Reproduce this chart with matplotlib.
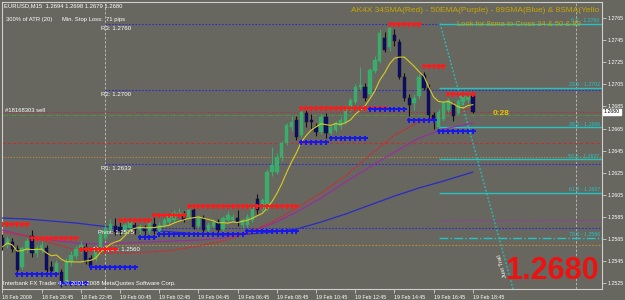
import numpy as np
import matplotlib.pyplot as plt
import matplotlib.transforms as mtransforms
import pandas as pd

plt.rcParams['font.family'] = ['Liberation Sans', 'DejaVu Sans']

# EURUSD M15 bars, bar 0 = 18 Feb 18:45 ... bar 96 = 19 Feb 18:45
opens = [1.2566, 1.2560, 1.2562, 1.2556, 1.2540, 1.2555, 1.2568, 1.2552, 1.2555, 1.2557,
         1.2540, 1.2535, 1.2535, 1.2527, 1.2544, 1.2550, 1.2555, 1.2558, 1.2548, 1.2548,
         1.2556, 1.2566, 1.2573, 1.2577, 1.2576, 1.2573, 1.2575, 1.2578, 1.2573, 1.2575,
         1.2572, 1.2579, 1.2572, 1.2578, 1.2580, 1.2582, 1.2587, 1.2587, 1.2585, 1.2591,
         1.2577, 1.2584, 1.2573, 1.2577, 1.2580, 1.2574, 1.2582, 1.2582, 1.2584, 1.2578,
         1.2578, 1.2582, 1.2601, 1.2592, 1.2592, 1.2626, 1.2626, 1.2639, 1.2652, 1.2666,
         1.2673, 1.2659, 1.2679, 1.2673, 1.2666, 1.2662, 1.2675, 1.2661, 1.2664, 1.2667,
         1.2671, 1.2682, 1.2689, 1.2703, 1.2703, 1.2696, 1.2717, 1.2726, 1.2747, 1.2739,
         1.2750, 1.2743, 1.2712, 1.2693, 1.2688, 1.2694, 1.2713, 1.2702, 1.2677, 1.2666,
         1.2674, 1.2682, 1.2686, 1.2679, 1.2689, 1.2691, 1.2694]
highs = [1.2570, 1.2568, 1.2566, 1.2560, 1.2559, 1.2566, 1.2573, 1.2560, 1.2563, 1.2560,
         1.2545, 1.2546, 1.2538, 1.2548, 1.2554, 1.2559, 1.2563, 1.2561, 1.2551, 1.2560,
         1.2573, 1.2578, 1.2583, 1.2584, 1.2580, 1.2581, 1.2582, 1.2581, 1.2579, 1.2578,
         1.2582, 1.2587, 1.2580, 1.2585, 1.2589, 1.2591, 1.2593, 1.2590, 1.2593, 1.2594,
         1.2587, 1.2587, 1.2580, 1.2583, 1.2583, 1.2586, 1.2590, 1.2588, 1.2591, 1.2584,
         1.2588, 1.2598, 1.2606, 1.2602, 1.2628, 1.2648, 1.2643, 1.2654, 1.2670, 1.2676,
         1.2676, 1.2683, 1.2684, 1.2678, 1.2670, 1.2678, 1.2679, 1.2668, 1.2672, 1.2675,
         1.2686, 1.2693, 1.2705, 1.2721, 1.2706, 1.2720, 1.2731, 1.2755, 1.2752, 1.2760,
         1.2755, 1.2746, 1.2715, 1.2696, 1.2696, 1.2714, 1.2716, 1.2705, 1.2680, 1.2683,
         1.2690, 1.2693, 1.2689, 1.2692, 1.2697, 1.2698, 1.2698]
lows = [1.2555, 1.2557, 1.2553, 1.2535, 1.2538, 1.2552, 1.2549, 1.2549, 1.2552, 1.2535,
        1.2533, 1.2532, 1.2522, 1.2526, 1.2541, 1.2547, 1.2552, 1.2542, 1.2539, 1.2545,
        1.2553, 1.2564, 1.2571, 1.2569, 1.2569, 1.2570, 1.2572, 1.2570, 1.2570, 1.2569,
        1.2570, 1.2570, 1.2570, 1.2576, 1.2578, 1.2580, 1.2585, 1.2580, 1.2583, 1.2574,
        1.2575, 1.2571, 1.2570, 1.2575, 1.2571, 1.2572, 1.2580, 1.2580, 1.2577, 1.2575,
        1.2576, 1.2580, 1.2588, 1.2590, 1.2590, 1.2622, 1.2624, 1.2636, 1.2650, 1.2663,
        1.2655, 1.2657, 1.2666, 1.2665, 1.2658, 1.2660, 1.2656, 1.2659, 1.2662, 1.2665,
        1.2669, 1.2680, 1.2687, 1.2700, 1.2690, 1.2694, 1.2715, 1.2724, 1.2734, 1.2735,
        1.2740, 1.2710, 1.2690, 1.2676, 1.2682, 1.2692, 1.2700, 1.2674, 1.2665, 1.2663,
        1.2672, 1.2680, 1.2672, 1.2677, 1.2686, 1.2688, 1.2679]
closes = [1.2558, 1.2565, 1.2556, 1.2537, 1.2557, 1.2563, 1.2552, 1.2557, 1.2560, 1.2537,
          1.2536, 1.2543, 1.2526, 1.2545, 1.2551, 1.2556, 1.2560, 1.2544, 1.2541, 1.2558,
          1.2570, 1.2575, 1.2579, 1.2571, 1.2572, 1.2578, 1.2580, 1.2573, 1.2576, 1.2572,
          1.2580, 1.2572, 1.2578, 1.2582, 1.2587, 1.2589, 1.2589, 1.2582, 1.2591, 1.2576,
          1.2584, 1.2573, 1.2578, 1.2580, 1.2573, 1.2584, 1.2587, 1.2585, 1.2580, 1.2582,
          1.2585, 1.2595, 1.2591, 1.2600, 1.2626, 1.2632, 1.2639, 1.2652, 1.2668, 1.2671,
          1.2657, 1.2680, 1.2671, 1.2671, 1.2662, 1.2675, 1.2661, 1.2666, 1.2670, 1.2673,
          1.2684, 1.2691, 1.2703, 1.2704, 1.2693, 1.2718, 1.2727, 1.2751, 1.2736, 1.2756,
          1.2744, 1.2712, 1.2693, 1.2686, 1.2693, 1.2712, 1.2702, 1.2677, 1.2673, 1.2680,
          1.2688, 1.2691, 1.2676, 1.2690, 1.2694, 1.2694, 1.2680]

ma_bars = [0, 5, 10, 15, 20, 25, 30, 35, 40, 45, 50, 55, 60, 65, 70, 75, 80, 85, 90, 96]
sma34 = [1.25713, 1.25677, 1.25614, 1.25550, 1.25523, 1.25523, 1.25532, 1.25550, 1.25587, 1.25632,
         1.25704, 1.25804, 1.25931, 1.26066, 1.26220, 1.26410, 1.26591, 1.26709, 1.26772, 1.26836]
ema50 = [1.25731, 1.25677, 1.25641, 1.25614, 1.25605, 1.25614, 1.25623, 1.25632, 1.25641, 1.25659,
         1.25713, 1.25786, 1.25894, 1.26021, 1.26166, 1.26302, 1.26437, 1.26564, 1.26645, 1.26700]
sma89 = [1.25840, 1.25831, 1.25813, 1.25795, 1.25768, 1.25750, 1.25731, 1.25713, 1.25695, 1.25686,
         1.25695, 1.25713, 1.25740, 1.25804, 1.25876, 1.25958, 1.26039, 1.26112, 1.26175, 1.26256]

# stop dots: (first bar, last bar, price)
red_dots = [(0, 5, 1.2579), (6, 15, 1.2566), (16, 23, 1.2556), (24, 30, 1.2582),
            (31, 37, 1.2587), (38, 60, 1.2595), (61, 78, 1.2684), (79, 85, 1.2760),
            (86, 90, 1.2722), (91, 96, 1.2696)]
blue_dots = [(3, 11, 1.2533), (12, 17, 1.2525), (18, 27, 1.2540), (28, 31, 1.2567),
             (32, 49, 1.2570), (50, 60, 1.2572), (61, 66, 1.2653), (67, 74, 1.2656),
             (75, 82, 1.2683), (83, 88, 1.2673), (89, 96, 1.2663)]

pivot_names = ['R3', 'R2', 'R1', 'Pivot', "T's Open"]
pivot_levels = [1.2760, 1.2700, 1.2633, 1.2575, 1.2560]

fib_names = ['0.0', '23.6', '38.2', '50.0', '61.8', '78.6']
fib_levels = [1.2760, 1.2702, 1.2666, 1.2637, 1.2607, 1.2566]

price_ticks = [1.2525, 1.2545, 1.2565, 1.2585, 1.2605, 1.2625, 1.2645,
               1.2665, 1.2685, 1.2705, 1.2725, 1.2745, 1.2765]
time_bars = [0, 8, 16, 24, 32, 40, 48, 56, 64, 72, 80, 88, 96]
time_labels = ['18 Feb 2009', '18 Feb 20:45', '18 Feb 22:45', '19 Feb 00:45', '19 Feb 02:45',
               '19 Feb 04:45', '19 Feb 06:45', '19 Feb 08:45', '19 Feb 10:45', '19 Feb 12:45',
               '19 Feb 14:45', '19 Feb 16:45', '19 Feb 18:45']

bg = '#67675f'
green = '#3aad6c'
navy = '#0c0c70'
gold = '#c9a400'
cyan = '#22c4c4'
pivot_blue = '#2a2ad8'

fig = plt.figure(figsize=(6.25, 3.0), dpi=100)
fig.patch.set_facecolor(bg)
ax = fig.add_axes([2 / 625, 11 / 300, 600 / 625, 287 / 300])
ax.set_facecolor(bg)
ax.set_xlim(-0.1, 122.35)
ax.set_ylim(1.25198, 1.27795)

# day separators
for xb in [20.95, 117]:
    ax.axvline(xb, color='#c0c0c0', lw=0.6, ls=(0, (3, 2)), zorder=1)

# full width order / level lines
ax.axhline(1.2680, color='#c42048', lw=0.8, ls=(0, (1, 1.5)), zorder=1)
ax.axhline(1.2677, color='#3f9f3f', lw=0.6, ls='-.', zorder=1)
ax.axhline(1.2652, color='#d02828', lw=0.8, ls=(0, (2.5, 2.5)), zorder=1)
ax.axhline(1.2639, color='#c08a3a', lw=0.8, ls=(0, (1, 1.5)), zorder=1)

# daily pivots
for name, lvl in zip(pivot_names, pivot_levels):
    col = '#c08a3a' if name == "T's Open" else pivot_blue
    ax.hlines(lvl, 20.95, 122.35, color=col, lw=0.8, ls=(0, (1.5, 1.5)), zorder=1)
    ax.text(23.2, lvl - 0.00042, f'{name}: {lvl:.4f}', color='white', fontsize=4.4,
            ha='center', va='center', zorder=6)
ax.hlines(1.2582, 89, 122.35, color='#a030b0', lw=0.8, ls=(0, (1.5, 1.5)), zorder=1)

# fibonacci levels
for name, lvl in zip(fib_names, fib_levels):
    ls = '-.' if name == '78.6' else '-'
    ax.hlines(lvl, 89, 122.35, color=cyan, lw=1.0, ls=ls, zorder=2)
    ax.text(121.9, lvl + 0.00028, f'{name} - {lvl:.4f}', color=cyan, fontsize=3.8,
            ha='right', va='center', zorder=6)
ax.plot([89.3, 104.2], [1.2760, 1.25198], color=cyan, lw=0.9, ls=(0, (1.5, 1.5)), zorder=2)
ax.text(102.1, 1.2541, 'Just Trail', color='white', fontsize=4.2, rotation=105,
        ha='center', va='center', zorder=6)

# moving averages
ax.plot(ma_bars, sma89, color='#2a2ac8', lw=0.9, zorder=3)
ax.plot(ma_bars, ema50, color='#9a2aa6', lw=0.8, zorder=3)
ax.plot(ma_bars, sma34, color='#e0202c', lw=0.8, ls=(0, (2, 1)), zorder=3)

# candles
idx = np.arange(len(closes))
o = np.array(opens)
c = np.array(closes)
h = np.array(highs)
l = np.array(lows)
up = c >= o
ax.vlines(idx[up], l[up], h[up], color=green, lw=0.8, zorder=4)
ax.vlines(idx[~up], l[~up], h[~up], color='#111111', lw=0.8, zorder=4)
body = np.maximum(np.abs(c - o), 0.00005)
ax.bar(idx[up], body[up], bottom=np.minimum(o, c)[up], width=0.66, color=green,
       edgecolor=green, lw=0.3, zorder=5)
ax.bar(idx[~up], body[~up], bottom=np.minimum(o, c)[~up], width=0.66, color=navy,
       edgecolor='#111111', lw=0.3, zorder=5)

sma8 = pd.Series(closes).rolling(8, min_periods=1).mean()
ax.plot(idx, sma8, color='#d6cc22', lw=0.8, zorder=6)

# stop dots
for b0, b1, lvl in red_dots:
    xs = np.arange(b0, b1 + 1)
    ax.plot(xs, [lvl] * len(xs), ls='none', marker='P', ms=3.6, color='#ff1a1a',
            mew=0, zorder=7)
for b0, b1, lvl in blue_dots:
    xs = np.arange(b0, b1 + 1)
    ax.plot(xs, [lvl] * len(xs), ls='none', marker='P', ms=3.6, color='#1818e8',
            mew=0, zorder=7)

# labels on chart
ax.text(0.6, 1.26812, '#18168303 sell', color='white', fontsize=4.2, va='center', zorder=6)
ax.text(101.7, 1.2679, '0:28', color='#e6c200', fontsize=6, fontweight='bold',
        ha='center', va='center', zorder=8)
ax.text(112.1, 1.2536, '1.2680', color='#ee1111', fontsize=22, fontweight='bold',
        ha='center', va='center', zorder=8)

# axes styling
for sp in ax.spines.values():
    sp.set_color('#cfcfcf')
    sp.set_linewidth(0.8)
ax.yaxis.tick_right()
ax.set_yticks(price_ticks)
ax.set_yticklabels([f'{p:.4f}' for p in price_ticks], fontsize=3.8, color='white')
ax.set_xticks(time_bars)
ax.set_xticklabels(time_labels, fontsize=3.8, color='white', ha='left')
ax.tick_params(axis='both', length=3, width=0.6, color='#cfcfcf', pad=1)

trans = mtransforms.blended_transform_factory(ax.transAxes, ax.transData)
ax.text(1.003, 1.2680, '1.2680', transform=trans, fontsize=3.8, color='black',
        va='center', ha='left', zorder=9,
        bbox=dict(boxstyle='square,pad=0.15', fc='white', ec='white'))

# header / footer texts (pixel positions)
def ft(x, y, s, **kw):
    fig.text(x / 625, 1 - y / 300, s, va='center', **kw)

ft(4, 6, 'EURUSD,M15  1.2694 1.2698 1.2679 1.2680', color='white', fontsize=4.2)
ft(6, 20, '300% of ATR (20)', color='white', fontsize=4.2)
ft(62, 20, 'Min. Stop Loss:', color='white', fontsize=4.2)
ft(106, 20, '71 pips', color='white', fontsize=4.2)
ft(351, 11, 'AK4X 34SMA(Red) - 50EMA(Purple) - 89SMA(Blue) & 8SMA(Yello', color=gold,
   fontsize=6)
ft(457, 24, 'Look for 8sma to Cross 34 & 50 & 89', color=gold, fontsize=5.4)
ft(3, 283, 'Interbank FX Trader 4, \u00a9 2001-2008 MetaQuotes Software Corp.', color='white',
   fontsize=4.3)

fig.savefig('out.png', dpi=100, facecolor=bg)
